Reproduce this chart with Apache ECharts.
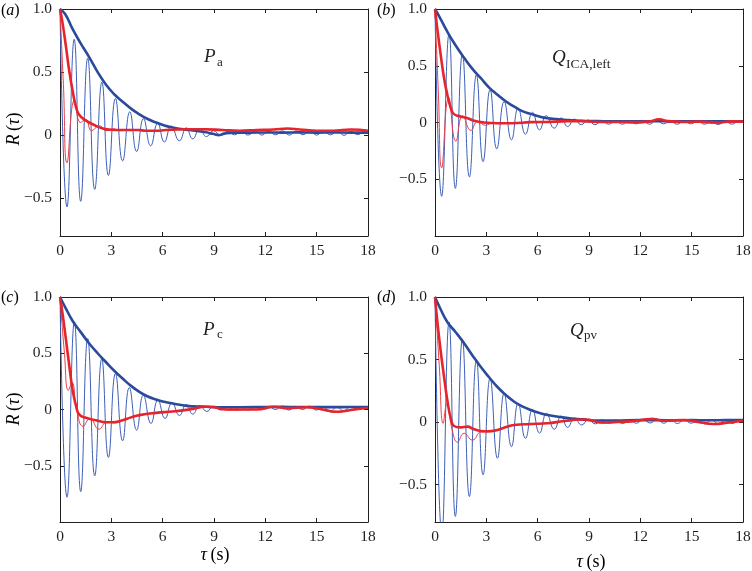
<!DOCTYPE html>
<html>
<head>
<meta charset="utf-8">
<script src="https://cdn.jsdelivr.net/npm/echarts@6/dist/echarts.min.js"></script>
<style>html,body{margin:0;padding:0;background:#fff}#c{width:752px;height:571px}</style>
</head>
<body>
<div id="c"></div>
<script>
// ---- data (tau in s, R(tau)) ----
const panelLetters = ['a','b','c','d'];
const xTicks = [0,3,6,9,12,15,18];
const yTickValues = [-0.5,0,0.5,1];
const yTickLabels = ['\u22120.5','0','0.5','1.0'];
const yMins = [-0.8,-1.0,-1.0,-0.8];

const aBlueThin = [[0,1],[0.41,-0.57],[0.83,0.76],[1.21,-0.525],[1.62,0.61],[2.03,-0.43],[2.45,0.42],[2.83,-0.32],[3.24,0.29],[3.66,-0.205],[4.08,0.185],[4.48,-0.13],[4.88,0.13],[5.3,-0.085],[5.71,0.095],[6.1,-0.055],[6.5,0.072],[6.98,-0.045],[7.38,0.058],[7.76,-0.03],[8.16,0.048],[8.56,-0.012],[8.97,0.035],[9.4,-0.002],[9.8,0.03],[10.2,0.002],[10.6,0.032],[10.98,0.0],[11.4,0.033],[11.8,0.0],[12.2,0.032],[12.6,0.002],[13.0,0.034],[13.4,0.0],[13.8,0.033],[14.2,0.003],[14.6,0.033],[15.0,0.0],[15.4,0.032],[15.8,0.002],[16.2,0.033],[16.6,-0.002],[17.0,0.031],[17.4,0.003],[17.8,0.03],[18,0.012]];
const aBlueThick = [[0,1],[0.3,0.96],[0.74,0.84],[1.2,0.73],[1.72,0.615],[2.2,0.5],[2.69,0.4],[3.2,0.32],[3.66,0.265],[4.15,0.21],[4.64,0.165],[5.1,0.13],[5.61,0.1],[6.1,0.077],[6.59,0.06],[7.1,0.048],[7.56,0.04],[8.0,0.032],[8.54,0.022],[8.93,0.01],[9.3,0.0],[9.6,0.012],[10.2,0.02],[11,0.02],[12,0.021],[13,0.02],[14,0.022],[15,0.02],[16,0.021],[17,0.02],[18,0.02]];
const aRedThin = [[0,1],[0.2,0.4],[0.41,-0.22],[0.85,0.28],[1.2,0.1],[1.5,0.125],[1.85,0.035],[2.3,0.075],[2.7,0.035],[3.1,0.05],[3.5,0.035],[4.1,0.045],[5,0.035],[6,0.038],[7,0.045],[8,0.045],[9,0.04],[10,0.035],[11,0.038],[12,0.042],[13.3,0.05],[14.5,0.04],[15.5,0.035],[17,0.045],[18,0.035]];
const aRedThick = [[0,1],[0.16,0.88],[0.35,0.7],[0.55,0.5],[0.74,0.35],[0.94,0.22],[1.13,0.16],[1.52,0.115],[2.0,0.08],[2.5,0.053],[3.0,0.042],[3.5,0.04],[4.0,0.04],[4.6,0.04],[5.0,0.035],[5.6,0.034],[6.2,0.04],[7.0,0.045],[7.6,0.047],[8.5,0.047],[9.5,0.04],[10.5,0.035],[11.5,0.04],[12.5,0.045],[13.3,0.052],[14,0.045],[15,0.035],[16,0.035],[17,0.045],[18,0.035]];

const bBlueThin = [[0,1],[0.39,-0.65],[0.82,0.78],[1.19,-0.58],[1.6,0.6],[2.01,-0.48],[2.42,0.42],[2.81,-0.345],[3.22,0.29],[3.61,-0.232],[4.04,0.185],[4.47,-0.153],[4.86,0.126],[5.29,-0.103],[5.7,0.09],[6.11,-0.065],[6.5,0.06],[6.97,-0.05],[7.38,0.04],[7.75,-0.035],[8.16,0.03],[8.54,-0.02],[8.95,0.022],[9.35,-0.02],[9.75,0.015],[10.15,-0.015],[10.55,0.012],[10.95,-0.015],[11.35,0.012],[11.75,-0.012],[12.15,0.01],[12.55,-0.015],[12.95,0.02],[13.35,-0.012],[13.75,0.012],[14.15,-0.015],[14.55,0.012],[14.95,-0.012],[15.35,0.012],[15.75,-0.015],[16.15,0.01],[16.55,-0.018],[16.95,0.012],[17.35,-0.015],[17.75,0.012],[18,0.0]];
const bBlueThick = [[0,1],[0.3,0.92],[0.72,0.8],[1.2,0.68],[1.7,0.57],[2.2,0.47],[2.68,0.39],[3.15,0.31],[3.65,0.244],[4.15,0.185],[4.63,0.14],[5.1,0.1],[5.6,0.076],[6.1,0.053],[6.58,0.038],[7.1,0.03],[7.56,0.024],[8.0,0.02],[8.54,0.015],[9.5,0.012],[10.5,0.01],[12,0.01],[13,0.012],[14,0.01],[15,0.01],[16,0.01],[17,0.01],[18,0.01]];
const bRedThin = [[0,1],[0.2,0.25],[0.39,-0.4],[0.8,0.22],[1.22,-0.165],[1.62,0.06],[2.1,-0.07],[2.5,0.01],[2.95,-0.025],[3.4,0.0],[3.8,-0.01],[4.5,-0.005],[5.5,0.0],[6.5,0.005],[7.5,0.01],[8.5,0.012],[9.5,0.0],[10.5,0.008],[11.5,-0.005],[12.5,0.005],[13.1,0.03],[13.6,0.0],[14.5,0.008],[15.5,0.0],[16.5,-0.01],[17.3,0.012],[18,0.005]];
const bRedThick = [[0,1],[0.14,0.82],[0.33,0.6],[0.53,0.39],[0.72,0.245],[0.92,0.13],[1.11,0.074],[1.5,0.053],[1.9,0.038],[2.29,0.015],[2.87,0.0],[3.65,-0.006],[4.5,-0.006],[5.6,0.003],[6.5,0.005],[7.5,0.01],[8.5,0.012],[9.5,0.005],[10.5,0.005],[11.5,0.003],[12.5,0.008],[13.1,0.028],[13.6,0.012],[14.5,0.005],[15.5,0.008],[16.5,0.0],[17.3,0.01],[18,0.008]];

const cBlueThin = [[0,1],[0.41,-0.78],[0.84,0.78],[1.21,-0.73],[1.62,0.63],[2.03,-0.59],[2.44,0.45],[2.83,-0.426],[3.24,0.32],[3.66,-0.278],[4.05,0.195],[4.48,-0.183],[4.87,0.127],[5.32,-0.124],[5.72,0.085],[6.14,-0.08],[6.55,0.06],[6.98,-0.053],[7.38,0.045],[7.76,-0.041],[8.17,0.035],[8.58,-0.018],[8.98,0.03],[9.38,-0.005],[9.78,0.025],[10.18,0.0],[10.58,0.025],[10.98,-0.005],[11.38,0.025],[11.78,0.0],[12.18,0.028],[12.58,0.0],[12.98,0.03],[13.38,-0.005],[13.78,0.028],[14.18,0.0],[14.58,0.03],[14.98,-0.005],[15.38,0.022],[15.78,-0.015],[16.18,0.02],[16.58,-0.01],[16.98,0.025],[17.38,0.0],[17.78,0.025],[18,0.01]];
const cBlueThick = [[0,1],[0.3,0.91],[0.74,0.787],[1.2,0.69],[1.72,0.585],[2.2,0.5],[2.69,0.42],[3.2,0.34],[3.66,0.275],[4.15,0.21],[4.64,0.157],[5.1,0.118],[5.61,0.089],[6.1,0.068],[6.59,0.053],[7.1,0.04],[7.56,0.03],[8.0,0.027],[8.54,0.024],[9.5,0.02],[10.5,0.02],[12,0.022],[13,0.023],[14,0.022],[15,0.022],[16,0.021],[17,0.022],[18,0.022]];
const cRedThin = [[0,1],[0.25,0.52],[0.49,0.17],[0.7,0.24],[0.98,0.0],[1.35,-0.15],[1.75,-0.08],[2.28,-0.175],[2.75,-0.11],[3.2,-0.12],[3.7,-0.095],[4.2,-0.07],[5,-0.04],[6,-0.025],[7,-0.01],[8,0.01],[8.6,0.025],[9.3,0.01],[10,-0.005],[11,0.0],[12,0.005],[12.5,0.028],[13.2,0.005],[14.4,0.025],[15.2,0.0],[16.2,-0.025],[17,0.0],[18,0.015]];
const cRedThick = [[0,1],[0.16,0.84],[0.35,0.62],[0.55,0.38],[0.74,0.17],[0.94,0.03],[1.13,-0.045],[1.52,-0.074],[2.1,-0.095],[2.69,-0.113],[3.08,-0.113],[3.66,-0.095],[4.15,-0.07],[4.64,-0.05],[5.61,-0.03],[6.59,-0.018],[7.56,0.0],[8.54,0.024],[9.0,0.02],[9.7,0.0],[10.5,0.0],[11.5,0.0],[12.5,0.024],[13.3,0.012],[14.4,0.02],[15.2,0.005],[16.2,-0.02],[17,-0.005],[18,0.015]];

const dBlueThin = [[0,1],[0.4,-0.9],[0.82,0.8],[1.19,-0.755],[1.6,0.66],[2.01,-0.596],[2.42,0.495],[2.81,-0.423],[3.22,0.35],[3.65,-0.29],[4.04,0.23],[4.47,-0.197],[4.86,0.15],[5.29,-0.13],[5.7,0.1],[6.11,-0.09],[6.52,0.07],[6.97,-0.058],[7.38,0.048],[7.75,-0.043],[8.16,0.032],[8.57,-0.024],[8.97,0.02],[9.37,-0.015],[9.77,0.018],[10.17,-0.01],[10.57,0.015],[10.97,-0.012],[11.37,0.018],[11.77,-0.01],[12.17,0.02],[12.57,-0.008],[12.97,0.022],[13.37,-0.01],[13.77,0.02],[14.17,-0.012],[14.57,0.018],[14.97,-0.01],[15.37,0.018],[15.77,-0.015],[16.17,0.015],[16.57,-0.015],[16.97,0.015],[17.37,-0.012],[17.77,0.012],[18,0.005]];
const dBlueThick = [[0,1],[0.3,0.91],[0.72,0.8],[1.2,0.72],[1.7,0.63],[2.2,0.53],[2.68,0.44],[3.15,0.36],[3.65,0.28],[4.15,0.215],[4.63,0.162],[5.1,0.125],[5.6,0.096],[6.1,0.073],[6.58,0.056],[7.1,0.044],[7.56,0.035],[8.0,0.028],[8.54,0.021],[9.5,0.012],[10.5,0.012],[12,0.015],[13,0.015],[14,0.014],[15,0.015],[16,0.014],[17,0.015],[18,0.015]];
const dRedThin = [[0,1],[0.25,0.45],[0.48,-0.01],[0.7,0.15],[1.0,-0.06],[1.31,-0.16],[1.7,-0.09],[2.19,-0.145],[2.7,-0.08],[3.2,-0.08],[3.7,-0.06],[4.3,-0.035],[5,-0.02],[6,-0.015],[7,0.0],[8,0.01],[8.6,0.025],[9.3,0.005],[10,-0.01],[11,0.0],[12,0.01],[12.7,0.03],[13.4,0.005],[14.5,0.02],[15.4,-0.005],[16.3,-0.02],[17.1,0.0],[18,0.01]];
const dRedThick = [[0,1],[0.14,0.8],[0.33,0.57],[0.53,0.36],[0.72,0.175],[0.92,0.03],[1.11,-0.032],[1.5,-0.043],[1.89,-0.037],[2.29,-0.058],[2.87,-0.074],[3.3,-0.072],[3.65,-0.064],[4.15,-0.04],[4.63,-0.024],[5.6,-0.016],[6.58,-0.01],[7.56,0.008],[8.54,0.02],[9.0,0.018],[9.6,-0.003],[10.5,0.0],[11.5,0.005],[12.7,0.024],[13.4,0.01],[14.5,0.016],[15.4,0.0],[16.3,-0.016],[17.1,-0.005],[18,0.01]];

const blueThinSets = [aBlueThin,bBlueThin,cBlueThin,dBlueThin];
const blueThickSets = [aBlueThick,bBlueThick,cBlueThick,dBlueThick];
const redThinSets = [aRedThin,bRedThin,cRedThin,dRedThin];
const redThickSets = [aRedThick,bRedThick,cRedThick,dRedThick];

// ---- layout & style ----
const FONT = '"Liberation Serif", "Times New Roman", serif';
const INK = '#231f20';
const gridPos = [
  {left:60, right:384, top:9, bottom:335},
  {left:435, right:9, top:9, bottom:335},
  {left:60, right:384, top:297, bottom:49},
  {left:435, right:9, top:297, bottom:49}
];
const BLUE_THICK = '#2b4a9b', BLUE_THIN = '#3d5fb8', RED_THICK = '#e5242b', RED_THIN = '#e6404a';

const grids = [], xAxes = [], yAxes = [], series = [];
for (let i = 0; i < 4; i++) {
  grids.push(Object.assign({outerBoundsMode:'none', containLabel:false}, gridPos[i]));
  const lineStyle = {color: INK, width: 1};
  xAxes.push({type:'value', gridIndex:i, position:'bottom', min:0, max:18, interval:3,
    axisLine:{show:true, onZero:false, lineStyle},
    axisTick:{show:true, inside:true, length:4, lineStyle},
    axisLabel:{show:true, margin:7, color:INK, fontFamily:FONT, fontSize:15.5},
    splitLine:{show:false}});
  xAxes.push({type:'value', gridIndex:i, position:'top', min:0, max:18, interval:3,
    axisLine:{show:true, onZero:false, lineStyle},
    axisTick:{show:true, inside:true, length:4, lineStyle},
    axisLabel:{show:false}, splitLine:{show:false}});
  const yl = {type:'value', gridIndex:i, min:yMins[i], max:1,
    axisLine:{show:true, onZero:false, lineStyle},
    axisTick:{show:true, inside:true, length:4, lineStyle, customValues:yTickValues},
    splitLine:{show:false}};
  yAxes.push(Object.assign({}, yl, {position:'left',
    axisLabel:{show:true, margin:8, color:INK, fontFamily:FONT, fontSize:15.5,
      customValues:yTickValues,
      formatter:(v)=>{const k = yTickValues.findIndex(t=>Math.abs(t-v)<1e-6); return k>=0?yTickLabels[k]:'';}}}));
  yAxes.push(Object.assign({}, yl, {position:'right', axisLabel:{show:false}}));
  const base = {type:'line', xAxisIndex:2*i, yAxisIndex:2*i, showSymbol:false, symbol:'none',
    smooth:0.5, clip:true, silent:true, animation:false};
  series.push(Object.assign({}, base, {data:blueThinSets[i], z:2, lineStyle:{color:BLUE_THIN, width:1}}));
  series.push(Object.assign({}, base, {data:redThinSets[i], z:3, lineStyle:{color:RED_THIN, width:1}}));
  series.push(Object.assign({}, base, {data:blueThickSets[i], z:4, lineStyle:{color:BLUE_THICK, width:2.6}}));
  series.push(Object.assign({}, base, {data:redThickSets[i], z:5, lineStyle:{color:RED_THICK, width:2.6}}));
}

const tx = (x, y, text, opts) => ({type:'text', x, y, silent:true, z:10,
  style:Object.assign({text, fill:INK, font:'15px "Liberation Serif"', align:'left', verticalAlign:'middle'}, opts||{})});
const richLabel = {
  n:{fontFamily:FONT, fontSize:16, color:INK},
  i:{fontFamily:FONT, fontSize:16, fontStyle:'italic', color:INK}
};
const richAxis = {
  n:{fontFamily:FONT, fontSize:18, color:INK},
  i:{fontFamily:FONT, fontSize:18, fontStyle:'italic', color:INK}
};
const panelLabelPos = [[1,11],[377,11],[1,298],[377,298]];
const graphics = [];
panelLetters.forEach((l, i) => {
  graphics.push({type:'text', x:panelLabelPos[i][0], y:panelLabelPos[i][1], silent:true,
    style:{text:'{n|(}{i|'+l+'}{n|)}', rich:richLabel, align:'left', verticalAlign:'middle'}});
});
// y-axis names
[[14,129],[14,409]].forEach(p => {
  graphics.push({type:'text', x:p[0], y:p[1], rotation:Math.PI/2, silent:true,
    style:{text:'{i|R} {n|(}{i|\u03c4}{n|)}', rich:richAxis, align:'center', verticalAlign:'middle'}});
});
// x-axis names
[[215,555],[591,562]].forEach(p => {
  graphics.push({type:'text', x:p[0], y:p[1], silent:true,
    style:{text:'{i|\u03c4} {n|(s)}', rich:richAxis, align:'center', verticalAlign:'middle'}});
});
// variable annotations
const italic19 = 'italic 19px "Liberation Serif"';
graphics.push(tx(204,57,'P',{font:italic19}));
graphics.push(tx(217,63,'a',{font:'13px "Liberation Serif"'}));
graphics.push(tx(552,58,'Q',{font:italic19}));
graphics.push(tx(566,64,'ICA,left',{font:'13.5px "Liberation Serif"'}));
graphics.push(tx(203,330,'P',{font:italic19}));
graphics.push(tx(217,335,'c',{font:'13px "Liberation Serif"'}));
graphics.push(tx(570,331,'Q',{font:italic19}));
graphics.push(tx(584,336,'pv',{font:'13px "Liberation Serif"'}));

const chart = echarts.init(document.getElementById('c'), null, {renderer:'canvas'});
chart.setOption({
  animation:false,
  backgroundColor:'#ffffff',
  grid:grids, xAxis:xAxes, yAxis:yAxes, series, graphic:graphics
});
</script>
</body>
</html>
